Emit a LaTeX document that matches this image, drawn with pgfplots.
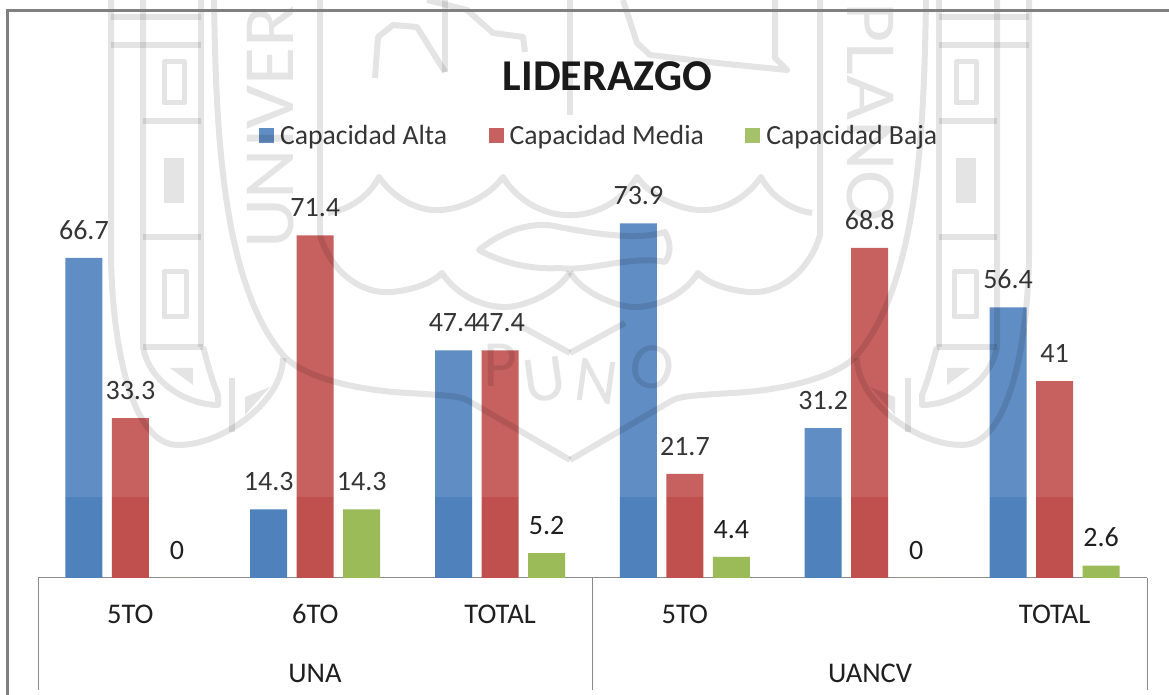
\documentclass[border=0pt]{standalone}
\usepackage{pgfplots}
\pgfplotsset{compat=1.18}
\usepackage{fontspec}
\setmainfont{Carlito}
\definecolor{serA}{HTML}{4F81BD}
\definecolor{serM}{HTML}{C0504D}
\definecolor{serB}{HTML}{9BBB59}
\definecolor{txt}{HTML}{1F1F1F}
\definecolor{linegray}{HTML}{8C8C8C}

% one side of the seal in the background, in pixel coordinates of the page
\newcommand{\sealhalf}{%
  \draw (111,0) -- (111,255) .. controls (112,340) and (130,445) .. (178,445)
        .. controls (225,445) and (283,400) .. (283,358);
  \draw (143,0) -- (143,347) .. controls (150,385) and (190,405) .. (218,405) -- (218,395) .. controls (210,375) and (207,360) .. (203,347);
  \draw (201,0) -- (201,347);
  \draw (143,347) -- (203,347);
  \draw (232,378) -- (232,432);
  \draw (111,17) -- (201,17) (111,45) -- (201,45) (143,121) -- (201,121) (143,237) -- (201,237);
  \draw[line width=5pt] (164,62) rectangle (184,103) (164,272) rectangle (186,317);
  \fill (164,158) rectangle (184,203);
  \fill (170,368) -- (193,368) -- (193,385) -- cycle;
  \fill (245,397) -- (270,387) -- (245,415) -- cycle;
  \draw (214,0) .. controls (216,120) and (220,280) .. (283,355) .. controls (300,375) and (350,390) .. (408,393)
        .. controls (440,395) and (460,396) .. (467,400) -- (570,460);
  \draw (320,0) -- (320,235) .. controls (330,270) and (360,295) .. (392,292) .. controls (410,290) and (430,285) .. (442,273)
        .. controls (460,300) and (490,308) .. (508,307) .. controls (530,305) and (560,290) .. (570,272);
  \draw (328,213) .. controls (350,210) and (370,195) .. (379,177) .. controls (395,200) and (420,212) .. (442,210)
        .. controls (465,208) and (490,195) .. (503,177) .. controls (520,205) and (550,216) .. (570,215);
  \draw (515,323) -- (570,353);
}

\begin{document}
\begin{tikzpicture}[x=1pt,y=1pt]
\useasboundingbox (0,0) rectangle (1169,695);

\begin{axis}[
  at={(38pt,117pt)}, anchor=south west,
  scale only axis,
  width=1109pt, height=480pt,
  ybar=9.5pt,
  bar width=37pt,
  xmin=-0.5, xmax=5.5,
  ymin=0, ymax=100,
  axis x line=bottom,
  axis y line=none,
  x axis line style={draw=linegray,line width=1pt,-},
  major tick length=0pt,
  xtick=data,
  xticklabels={5TO,6TO,TOTAL,5TO,,TOTAL},
  xticklabel style={font=\fontsize{28.5}{28.5}\selectfont,text=txt,yshift=-24pt,text height=18pt,text depth=0pt},
  title={\textbf{LIDERAZGO}},
  title style={at={(0.5135,1.033)},anchor=center,font=\fontsize{44}{44}\selectfont,text=black},
  /pgf/number format/assume math mode=true,
  nodes near coords,
  nodes near coords style={font=\fontsize{28}{28}\selectfont,text=txt,yshift=15pt},
  legend style={at={(0.506,0.921)},anchor=center,draw=none,fill=none,
    legend columns=3,font=\fontsize{27.7}{27.7}\selectfont,text=txt,
    /tikz/every even column/.append style={column sep=39.5pt}},
  legend image code/.code={\fill[#1] (0pt,-7pt) rectangle (15pt,8pt); \path (19pt,0pt);},
]
\addplot[fill=serA,draw=none] coordinates {(0,66.7)(1,14.3)(2,47.4)(3,73.9)(4,31.2)(5,56.4)};
\addplot[fill=serM,draw=none] coordinates {(0,33.3)(1,71.4)(2,47.4)(3,21.7)(4,68.8)(5,41)};
\addplot[fill=serB,draw=none] coordinates {(0,0)(1,14.3)(2,5.2)(3,4.4)(4,0)(5,2.6)};
\legend{Capacidad Alta,Capacidad Media,Capacidad Baja}
\end{axis}

% lighter band over the upper part of the page
\fill[white,fill opacity=0.1] (0,198) rectangle (1169,695);

% watermark seal, in page pixels with y running down
\begin{scope}[y=-1pt,yshift=695pt,opacity=0.106,black,line width=6pt,line join=round]
  \sealhalf
  \begin{scope}[xshift=1140pt,xscale=-1]
    \sealhalf
  \end{scope}
  \draw (570,0) -- (570,115);
  \draw (375,78) -- (378,37) -- (393,25) -- (417,27) -- (445,72);
  \draw (445,0) -- (445,72);
  \draw (427,0) -- (467,10) -- (493,33) -- (523,37) -- (525,52);
  \draw (623,0) -- (637,43) -- (650,55) -- (717,63) -- (787,70) -- (775,58) -- (775,0);
  \draw (479,250) .. controls (510,225) and (540,222) .. (559,227) .. controls (600,235) and (640,240) .. (665,232)
        .. controls (672,245) and (670,255) .. (665,262) .. controls (630,255) and (590,272) .. (559,268)
        .. controls (530,270) and (500,262) .. (479,250) -- cycle;
  \node[font=\fontsize{66}{66}\selectfont,inner sep=0pt] at (501,365) {P};
  \node[font=\fontsize{66}{66}\selectfont,inner sep=0pt,rotate=8] at (545,380) {U};
  \node[font=\fontsize{66}{66}\selectfont,inner sep=0pt,rotate=-8] at (597,382) {N};
  \node[font=\fontsize{66}{66}\selectfont,inner sep=0pt,rotate=-12] at (652,367) {O};
  \node[font=\fontsize{72}{72}\selectfont,inner sep=0pt,rotate=90,anchor=west] at (271,252) {\scalebox{1.08}[1]{UNIVER}};
  \node[font=\fontsize{72}{72}\selectfont,inner sep=0pt,rotate=-90,anchor=east] at (871,225) {\scalebox{1.08}[1]{PLANO}};
\end{scope}

% category table under the axis and frame of the chart
\begin{scope}[linegray,line width=1pt]
  \draw (38,5) -- (38,117);
  \draw (592,5) -- (592,117);
  \draw (1147,5) -- (1147,117);
\end{scope}
\node[font=\fontsize{28.5}{28.5}\selectfont,text=txt] at (315,22) {UNA};
\node[font=\fontsize{28.5}{28.5}\selectfont,text=txt] at (870,22) {UANCV};
\draw[gray,line width=2.5pt] (7.5,0) -- (7.5,684.5) -- (1169,684.5);
\end{tikzpicture}
\end{document}
